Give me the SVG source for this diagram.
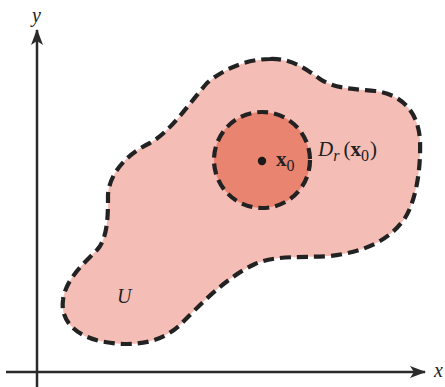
<svg xmlns="http://www.w3.org/2000/svg" width="445" height="387" viewBox="0 0 445 387">
<style>
.axis{stroke:#2a2a2a;stroke-width:2.5;fill:none}
.dash{stroke:#222;stroke-width:4.2;stroke-dasharray:11 6;fill:none}
.t{font-family:"Liberation Serif",serif;fill:#222}
.i{font-style:italic}
.b{font-weight:bold}
</style>
<defs>
<marker id="ah" markerWidth="16" markerHeight="12" refX="15" refY="6" orient="auto" markerUnits="userSpaceOnUse">
<path d="M0,0 L16,6 L0,12 L4,6 Z" fill="#2a2a2a"/>
</marker>
</defs>
<rect width="445" height="387" fill="#fff"/>
<g id="region-U">
<path d="M270 59 C290 58,305 68,320 79 C335 89,355 89,375 91 C400 94,418 110,420 140 C421 170,416 200,405 218 C390 240,365 252,330 256 C300 258,275 255,255 264 C225 278,200 305,180 325 C160 343,135 347,105 342 C75 337,60 320,63 300 C65 280,85 262,97 250 C108 238,108 215,108 195 C109 175,125 155,150 143 C170 132,188 105,207 83 C225 68,248 59,270 59 Z" fill="#f4bdb5"/>
<path class="dash" d="M270 59 C290 58,305 68,320 79 C335 89,355 89,375 91 C400 94,418 110,420 140 C421 170,416 200,405 218 C390 240,365 252,330 256 C300 258,275 255,255 264 C225 278,200 305,180 325 C160 343,135 347,105 342 C75 337,60 320,63 300 C65 280,85 262,97 250 C108 238,108 215,108 195 C109 175,125 155,150 143 C170 132,188 105,207 83 C225 68,248 59,270 59 Z"/>
<text class="t i" x="117" y="303" font-size="20">U</text>
</g>
<g id="disk">
<circle cx="262" cy="160" r="48" fill="#e8846f"/>
<circle class="dash" cx="262" cy="160" r="48" stroke-dasharray="10 5.5"/>
<circle cx="262" cy="161" r="4.2" fill="#1a1a1a"/>
<text class="t" x="276" y="166" font-size="21"><tspan class="b">x</tspan><tspan font-size="16" dy="5">0</tspan></text>
<text class="t" x="318" y="156" font-size="21"><tspan class="i">D</tspan><tspan class="i" font-size="16" dy="5">r</tspan><tspan dy="-5" dx="4">(</tspan><tspan class="b">x</tspan><tspan font-size="16" dy="5">0</tspan><tspan dy="-5" dx="1">)</tspan></text>
</g>
<g id="connectors">
<line class="axis" x1="37" y1="387" x2="37" y2="30" marker-end="url(#ah)"/>
<line class="axis" x1="6" y1="372" x2="425" y2="372" marker-end="url(#ah)"/>
</g>
<text class="t i" x="32" y="22" font-size="20">y</text>
<text class="t i" x="434" y="377" font-size="20">x</text>
</svg>
